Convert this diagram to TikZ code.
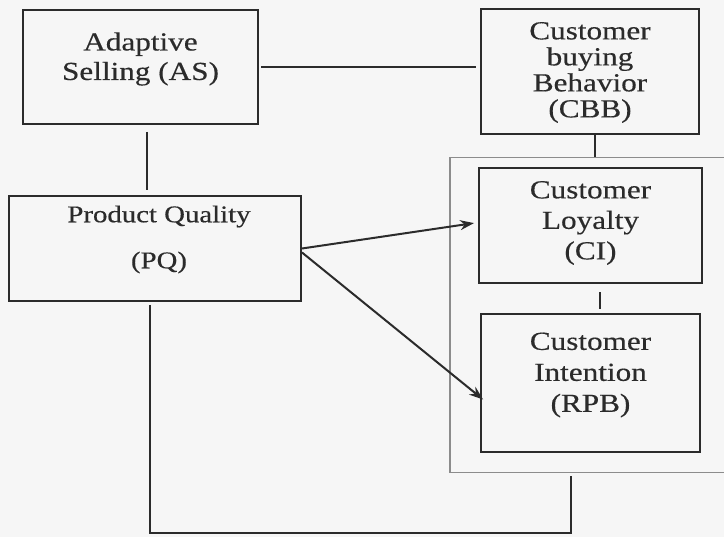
\documentclass[tikz,border=0pt]{standalone}
\usepackage{fontspec}
\setmainfont{Liberation Serif}[FakeStretch=1.2,FakeBold=0.4]
\usepackage{xcolor}
\usetikzlibrary{arrows.meta}

\definecolor{ink}{HTML}{2B2B2B}
\definecolor{framegray}{HTML}{8C8C8C}
\definecolor{paper}{HTML}{F6F6F6}

\begin{document}
\begin{tikzpicture}[x=1pt,y=-1pt,
    box/.style={shape=rectangle,draw=ink,line width=2pt},
    group/.style={shape=rectangle,draw=framegray,line width=1.6pt},
    txt/.style={align=center,font=\fontsize{26}{26}\selectfont,text=ink},
    link/.style={draw=ink,line width=1.5pt},
    >={Stealth[length=14pt,width=10pt]}]
                  % background
                  \fill[paper] (0,0) rectangle (724,537);
                  \useasboundingbox (0,0) rectangle (724,537);

                  % vertices
                  \node[group,minimum width=286,minimum height=315] (grp) at (593,315) {};
                  \node[box,minimum width=235,minimum height=114] (AS) at (140.5,67) {};
                  \node[box,minimum width=218,minimum height=125] (CBB) at (590,72) {};
                  \node[box,minimum width=292,minimum height=105] (PQ) at (155,248.5) {};
                  \node[box,minimum width=223,minimum height=115] (CL) at (590.5,226) {};
                  \node[box,minimum width=219,minimum height=138] (CI) at (590.5,383) {};

                  % texts
                  \node[txt] (AS-t) at ([yshift=8]AS.center) {Adaptive\\[3.5pt]Selling (AS)};
                  \node[txt] (CBB-t) at ([yshift=-0.5]CBB.center) {Customer\\buying\\Behavior\\(CBB)};
                  \node[txt,font=\fontsize{24}{26}\selectfont] (PQ-t) at ([xshift=4,yshift=9]PQ.center) {Product Quality\\[20pt](PQ)};
                  \node[txt] (CL-t) at ([yshift=3]CL.center) {Customer\\[4.5pt]Loyalty\\[4.5pt](CI)};
                  \node[txt] (CI-t) at ([yshift=8]CI.center) {Customer\\[5pt]Intention\\[5pt](RPB)};

                  % edges
                  \coordinate (lowR) at (571,533);
                  \draw[link,shorten <=2pt,shorten >=4pt] (AS.east) -- (AS.east -| CBB.west);
                  \draw[link,shorten <=7pt,shorten >=5pt] ([xshift=6.5]AS.south) -- ([xshift=6.5]AS.south |- PQ.north);
                  \draw[link] ([xshift=5]CBB.south) -- ([xshift=5]CBB.south |- grp.north);
                  \draw[link,shorten <=8pt,shorten >=4pt] ([xshift=9.5]CL.south) -- ([xshift=9.5]CL.south |- CI.north);
                  \draw[link,shorten <=3pt] ([xshift=-5]PQ.south) |- (lowR) -- ([xshift=-22,yshift=-3]grp.south);
                  \draw[->,link,line width=2pt,shorten >=4pt] (PQ.east) -- ([yshift=3.5]CL.west);
                  \draw[->,link,line width=2pt,shorten >=-4pt] ([yshift=-4]PQ.east) -- ([yshift=-14]CI.west);
              \end{tikzpicture}
\end{document}
